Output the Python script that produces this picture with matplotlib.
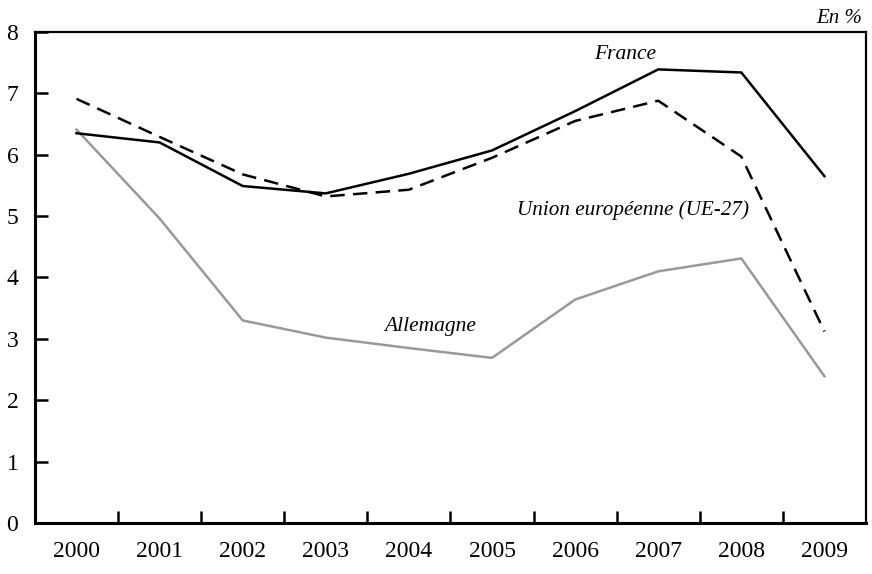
import numpy as np
import matplotlib
matplotlib.use("Agg")
import matplotlib.pyplot as plt

plt.rcParams['font.family'] = ['Liberation Serif', 'DejaVu Serif']

# data (en %)
years = ["2000", "2001", "2002", "2003", "2004", "2005", "2006", "2007", "2008", "2009"]
france = [6.35, 6.20, 5.49, 5.37, 5.69, 6.07, 6.71, 7.39, 7.34, 5.65]
ue27 = [6.91, 6.29, 5.68, 5.32, 5.43, 5.95, 6.55, 6.88, 5.97, 3.12]
allemagne = [6.41, 4.96, 3.30, 3.02, 2.85, 2.69, 3.64, 4.10, 4.31, 2.39]

fig = plt.figure(figsize=(8.72, 5.74), dpi=100)
ax = fig.add_axes([0.0401, 0.0889, 0.9530, 0.8554])

x = np.arange(len(years))
ax.plot(x, allemagne, color='#999999', lw=1.8, solid_joinstyle='miter')
ax.plot(x, ue27, color='black', lw=1.8, dashes=(5.8, 3.3))
ax.plot(x, france, color='black', lw=1.8, solid_joinstyle='miter')

ax.set_xlim(-0.5, len(years) - 0.5)
ax.set_ylim(0, 8)

# year labels centred, tick marks between categories
ax.set_xticks(x)
ax.set_xticklabels(years, fontsize=17)
ax.tick_params(axis='x', which='major', length=0, pad=13)
ax.set_xticks(x[:-1] + 0.5, minor=True)
ax.tick_params(axis='x', which='minor', direction='in', length=9, width=1.8)

ax.set_yticks(range(0, 9))
ax.tick_params(axis='y', direction='in', length=9, width=1.8, pad=12, labelsize=17)

for s in ['left', 'bottom']:
    ax.spines[s].set_linewidth(2.2)
for s in ['top', 'right']:
    ax.spines[s].set_linewidth(1.6)

# series labels
ax.text(6.6, 7.63, "France", style='italic', fontsize=15.5, ha='center', va='center')
ax.text(6.7, 5.09, "Union européenne (UE-27)", style='italic', fontsize=15.2, ha='center', va='center')
ax.text(4.25, 3.2, "Allemagne", style='italic', fontsize=15.5, ha='center', va='center')

fig.text(0.989, 0.968, "En %", style='italic', fontsize=15, ha='right', va='center')

fig.savefig("out.png", dpi=100)
